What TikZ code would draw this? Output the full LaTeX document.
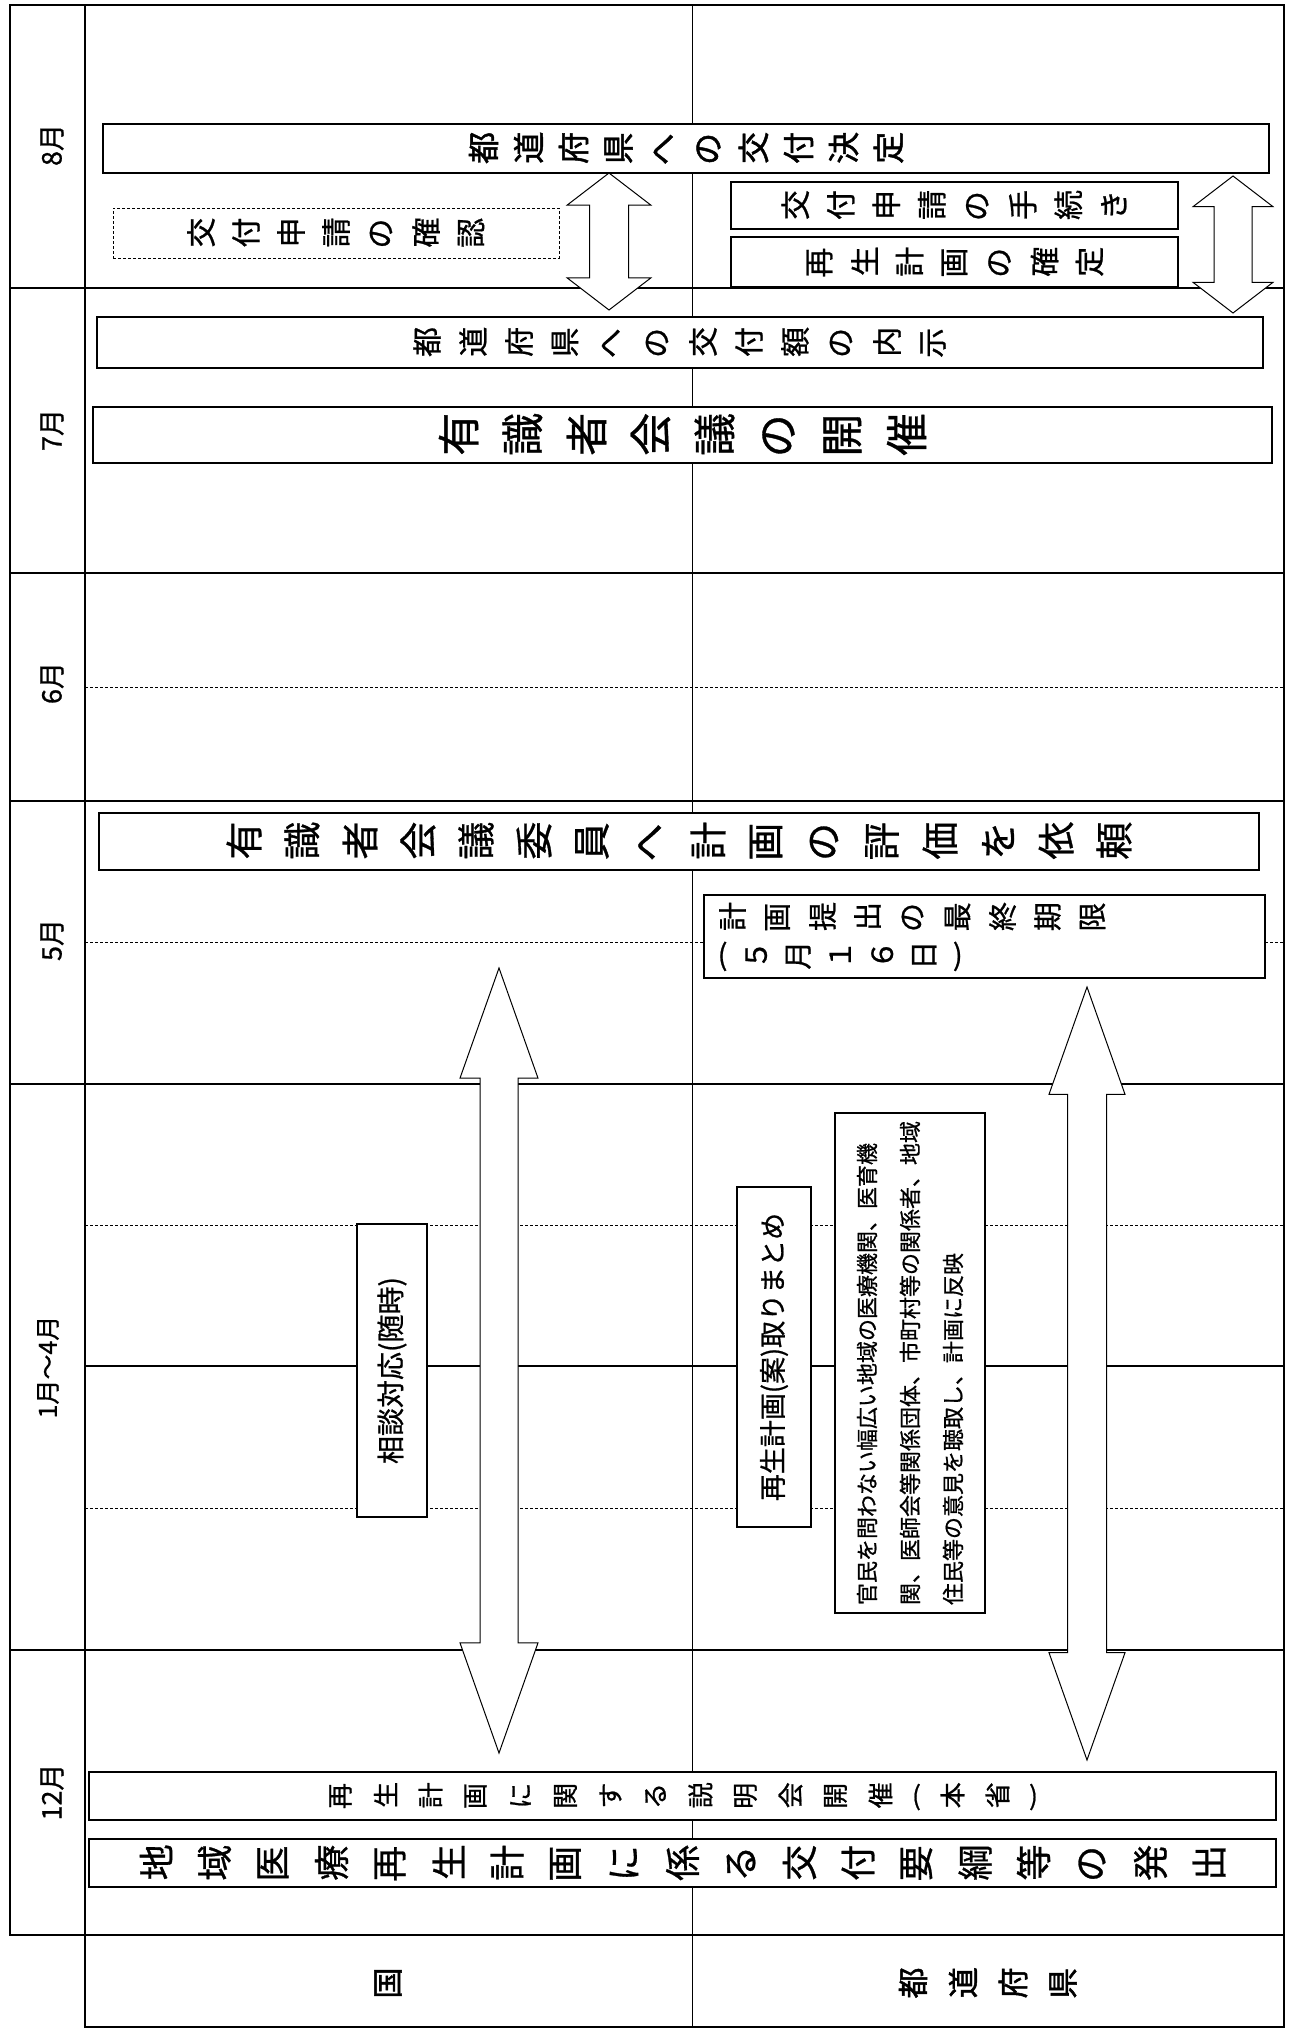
\documentclass[tikz,border=0pt]{standalone}
\usepackage{fontspec}
\usepackage{graphicx}
\setmainfont{Noto Sans CJK JP}[FakeBold=0.8]
\newfontfamily\dik{Noto Sans CJK JP}[FakeBold=1.5]
\usetikzlibrary{shapes.arrows}

% tekens een kwartslag gedraaid (staande tekst op een gedraaide pagina)
\newlength\tatepitch
\newcommand\tateend{}
\newcommand\tate[2]{\setlength\tatepitch{#1}\tateloop#2\tateend}
\def\tateloop#1{\ifx#1\tateend\else\tatechar{#1}\expandafter\tateloop\fi}
\def\tatechar#1{\ifx#1(\makebox[0.6\tatepitch]{#1}\else\ifx#1)\makebox[0.6\tatepitch]{#1}\else
    \makebox[\tatepitch]{\rotatebox[origin=c]{90}{#1}}\fi\fi}

\begin{document}
\begin{tikzpicture}[x=1pt, y=-1pt,
    frame/.style={line width=1.3pt},
    half/.style={line width=0.9pt, dash pattern=on 3pt off 2pt},
    box/.style={draw, fill=white, line width=1.3pt, inner sep=0pt},
    heavy/.style={box, line width=2.5pt},
    month/.style={rotate=90, font=\fontsize{27}{29}\selectfont},
    dubbel/.style={double arrow, draw, fill=white, line width=1pt, inner sep=0pt, rotate=90}]
    \useasboundingbox (0,0) rectangle (1288,2029);

    % tabel
    \draw[frame] (10,5) rectangle (1284,1935);
    \draw[frame] (85,1935) rectangle (1284,2027);
    \draw[frame] (85,5) -- (85,1935);
    \draw[line width=0.8pt] (692,5) -- (692,2027);
    \foreach \y in {288,573,801,1084,1650}
        \draw[frame] (10,\y) -- (1284,\y);
    \draw[frame] (85,1366) -- (1284,1366);
    \foreach \y in {687,942,1225,1508}
        \draw[half] (85,\y) -- (1284,\y);

    \node[month] (m8) at (52,145) {8月};
    \node[month] (m7) at (52,430) {7月};
    \node[month] (m6) at (52,683) {6月};
    \node[month] (m5) at (52,940) {5月};
    \node[month, font=\fontsize{25}{27}\selectfont] (m14) at (48,1367) {1月～4月};
    \node[month] (m12) at (52,1792) {12月};

    \node[font=\dik\fontsize{31}{33}\selectfont] (kuni) at (388,1983) {\tate{31pt}{国}};
    \node[font=\dik\fontsize{31}{33}\selectfont] (ken) at (988,1983) {\tate{50pt}{都道府県}};

    % pijlen
    \node[dubbel, minimum height=137pt, inner ysep=19pt, double arrow head extend=22.5pt, double arrow tip angle=105] (pijl1) at (609,241.5) {};
    \node[dubbel, minimum height=137pt, inner ysep=18.5pt, double arrow head extend=21pt, double arrow tip angle=105] (pijl2) at (1233,244.5) {};
    \node[dubbel, minimum height=785pt, inner ysep=18.5pt, double arrow head extend=20pt, double arrow tip angle=39] (pijl3) at (499,1360.5) {};
    \node[dubbel, minimum height=773pt, inner ysep=19pt, double arrow head extend=18.5pt, double arrow tip angle=39] (pijl4) at (1087,1373.5) {};

    % vakken
    \node[heavy, minimum width=1166pt, minimum height=49pt, font=\dik\fontsize{32}{34}\selectfont] (besluit) at (686,148.5) {\tate{45pt}{都道府県への交付決定}};
    \node[box, line width=0.8pt, dash pattern=on 3pt off 2pt, minimum width=446pt, minimum height=50pt, font=\fontsize{30}{32}\selectfont] (controle) at (336,233) {\tate{45pt}{交付申請の確認}};
    \node[box, minimum width=447pt, minimum height=47pt, font=\fontsize{30}{32}\selectfont] (aanvraag) at (954.5,205.5) {\tate{45.5pt}{交付申請の手続き}};
    \node[box, minimum width=447pt, minimum height=50pt, font=\fontsize{30}{32}\selectfont] (vaststelling) at (954.5,262) {\tate{45pt}{再生計画の確定}};
    \node[heavy, minimum width=1166pt, minimum height=51pt, font=\fontsize{30}{32}\selectfont] (bedrag) at (680,342.5) {\tate{46pt}{都道府県への交付額の内示}};
    \node[box, minimum width=1179pt, minimum height=56pt, font=\fontsize{43}{45}\selectfont] (vergadering) at (682.5,435) {\tate{64pt}{有識者会議の開催}};
    \node[box, line width=2pt, minimum width=1160pt, minimum height=57pt, font=\fontsize{38}{40}\selectfont] (beoordeling) at (679,841.5) {\tate{58pt}{有識者会議委員へ計画の評価を依頼}};
    \node[box, minimum width=561pt, minimum height=83pt, text width=549pt, align=left, font=\fontsize{29}{38}\selectfont] (termijn) at (984.5,936.5)
        {\tate{45pt}{計画提出の最終期限}\\\tate{42pt}{(５月１６日)}};
    \node[box, rotate=90, minimum width=293pt, minimum height=70pt, font=\fontsize{28}{30}\selectfont] (overleg) at (392,1370.5) {相談対応(随時)};
    \node[box, line width=1.6pt, rotate=90, minimum width=340pt, minimum height=74pt, font=\fontsize{27}{29}\selectfont] (ontwerp) at (774,1357) {再生計画(案)取りまとめ};
    \node[box, rotate=90, minimum width=500pt, minimum height=150pt, align=left, font=\fontsize{22}{43}\selectfont] (inspraak) at (910,1363)
        {官民を問わない幅広い地域の医療機関、医育機\\関、医師会等関係団体、市町村等の関係者、地域\\住民等の意見を聴取し、計画に反映};
    \node[box, minimum width=1187pt, minimum height=48pt, font=\fontsize{26}{28}\selectfont] (uitleg) at (682.5,1796) {\tate{45pt}{再生計画に関する説明会開催(本省)}};
    \node[box, minimum width=1187pt, minimum height=48pt, font=\fontsize{36}{38}\selectfont] (richtlijn) at (682.5,1863) {\tate{58.5pt}{地域医療再生計画に係る交付要綱等の発出}};
\end{tikzpicture}
\end{document}
